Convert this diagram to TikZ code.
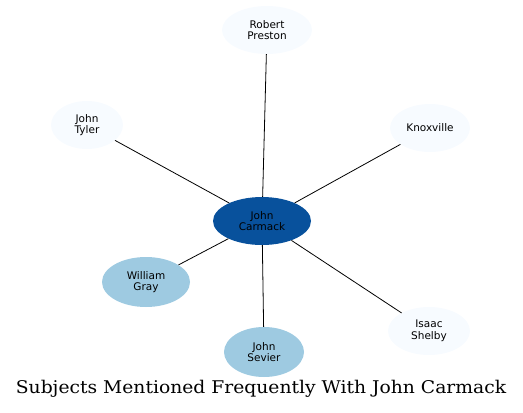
\documentclass[tikz,border=0pt]{standalone}
\usepackage{fontspec}
\newfontfamily\subjfont{DejaVu Sans}
\newfontfamily\captfont{DejaVu Serif}
\usetikzlibrary{positioning,shapes.geometric}
\definecolor{cmkdark}{HTML}{08519C}
\definecolor{cmkmid}{HTML}{9ECAE1}
\definecolor{cmkpale}{HTML}{F7FBFF}
\tikzset{
  subj/.style={ellipse,draw=none,inner sep=0pt,align=center,
               font=\subjfont\fontsize{10.5}{11.5}\selectfont},
  hub/.style={subj,fill=cmkdark,minimum width=98pt,minimum height=48pt},
  near/.style={subj,fill=cmkmid},
  far/.style={subj,fill=cmkpale},
  link/.style={draw=black,line width=0.8pt},
}

\begin{document}
\begin{tikzpicture}[x=1pt,y=-1pt]
  \useasboundingbox (0,0) rectangle (523,413);

  % ---- centre ----
  \node[hub] (carmack) at (262,221) {John\\Carmack};

  % ---- subjects around it ----
  \node[far,minimum width=90pt,minimum height=48pt] (preston) at (267,30) {Robert\\Preston};
  \node[far,minimum width=72pt,minimum height=48pt] (tyler) at (87,125) {John\\Tyler};
  \node[far,minimum width=80pt,minimum height=48pt] (knox) at (430,128) {Knoxville};
  \node[near,minimum width=88pt,minimum height=50pt] (gray) at (146,282) {William\\Gray};
  \node[near,minimum width=80pt,minimum height=50pt] (sevier) at (264,352) {John\\Sevier};
  \node[far,minimum width=82pt,minimum height=48pt] (shelby) at (429,331) {Isaac\\Shelby};

  % ---- links ----
  \foreach \s in {preston,tyler,knox,gray,sevier,shelby}
    \draw[link] (carmack) -- (\s);

  % ---- caption ----
  \node[font=\captfont\fontsize{17.5}{20}\selectfont,inner sep=0pt,
        xscale=1.07,transform shape] (title) at (261,389)
    {Subjects Mentioned Frequently With John Carmack};
\end{tikzpicture}
\end{document}
